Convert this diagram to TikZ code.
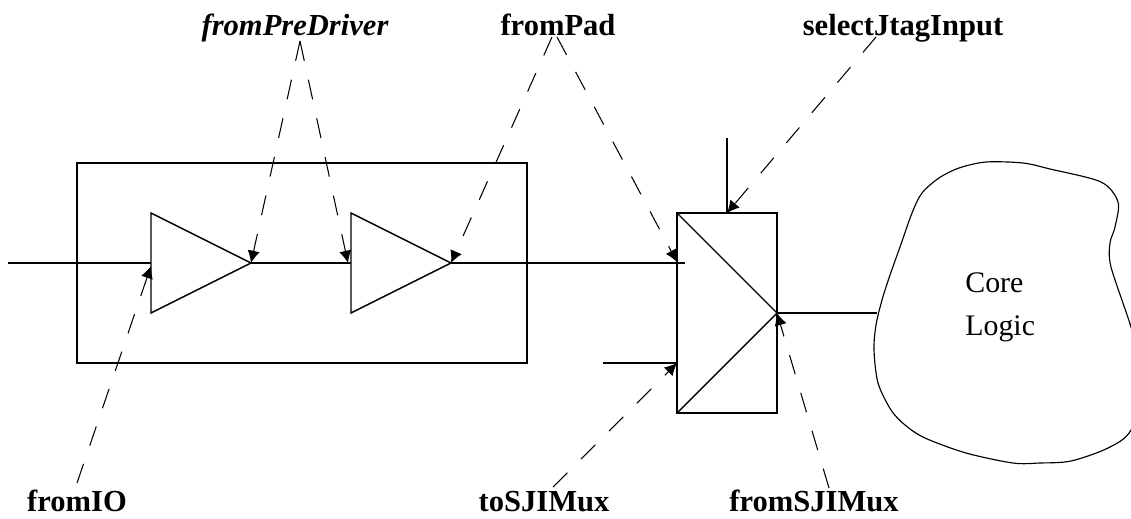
\documentclass[tikz,border=0pt]{standalone}
\usepackage{fontspec}
\setmainfont{Liberation Serif}
\usetikzlibrary{calc,arrows.meta}

\tikzset{
  wire/.style={line width=0.8pt},
  callout/.style={line width=0.6pt,dash pattern=on 11.5pt off 11pt,-{Latex[length=7pt,width=7pt]}},
  signame/.style={font=\fontsize{17.4}{20}\selectfont\bfseries,inner sep=0pt,anchor=base},
}

\begin{document}
\begin{tikzpicture}[x=0.02cm,y=-0.02cm]
    \useasboundingbox (0,0) rectangle (1131,518);

    \coordinate (IN) at (8,263);
    \coordinate (T1) at (151,213);
    \coordinate (T1in) at (151,263);
    \coordinate (T1b) at (151,313);
    \coordinate (T1out) at (251,263);
    \coordinate (T2) at (351,213);
    \coordinate (T2in) at (351,263);
    \coordinate (T2b) at (351,313);
    \coordinate (T2out) at (451,263);

    \coordinate (M) at (677,213);
    \coordinate (Mtop) at (727,213);
    \coordinate (Mb) at (677,413);
    \coordinate (Mout) at (777,313);
    \coordinate (Ma) at (685,263);
    \coordinate (Mlow) at (677,363);
    \coordinate (Lowend) at (603,363);
    \coordinate (Selend) at (727,138);
    \coordinate (Blobin) at (877,313);

    \draw[wire] (77,163) rectangle (527,363);
    \draw[wire] (IN) -- (T1in);
    \draw[wire] (T1) -- (T1out) -- (T1b) -- cycle;
    \draw[wire] (T1out) -- (T2in);
    \draw[wire] (T2) -- (T2out) -- (T2b) -- cycle;
    \draw[wire] (T2out) -- (Ma);

    \draw[wire] (M) rectangle (777,413);
    \draw[wire] (M) -- (Mout) -- (Mb);
    \draw[wire] (Lowend) -- (Mlow);
    \draw[wire] (Selend) -- (Mtop);
    \draw[wire] (Mout) -- (Blobin);

    % blob runs off the right edge
    \begin{scope}
      \clip (0,0) rectangle (1131,518);
      \draw[line width=0.65pt] plot[smooth cycle,tension=0.5] coordinates {
        (876,325) (882,300) (890,275) (900,247) (912,213) (922,193) (939,178) (959,168)
        (986,162) (1023,163) (1050,169) (1101,182) (1118,202) (1115,227)
        (1110,243) (1111,267) (1131,327) (1145,380) (1131,430) (1108,448)
        (1071,461) (1040,463) (1013,463) (966,453) (925,438) (905,425)
        (891,410) (878,383) (874,350)};
    \end{scope}

    \node[font=\fontsize{17}{24}\selectfont,inner sep=0pt,align=left,anchor=base west] (core) at (965,335) {Core\\Logic};

    \node[signame,font=\fontsize{17.4}{20}\selectfont\bfseries\itshape] (preDriver) at (295,35) {fromPreDriver};
    \node[signame] (pad) at (558,35) {fromPad};
    \node[signame] (jtag) at (903,35) {selectJtagInput};
    \node[signame] (io) at (77,511) {fromIO};
    \node[signame] (toMux) at (544,511) {toSJIMux};
    \node[signame] (fromMux) at (814,511) {fromSJIMux};

    \draw[callout] ($(preDriver.base)+(5,6)$) -- (T1out);
    \draw[callout] ($(preDriver.base)+(5,6)$) -- (348,263);
    \draw[callout] ($(pad.base)+(-6,2)$) -- (T2out);
    \draw[callout] ($(pad.base)+(-1,2)$) -- (677,262);
    \draw[callout] ($(jtag.base)+(-27,2)$) -- (Mtop);
    \draw[callout] ($(io.base)+(0,-28)$) -- (151,266);
    \draw[callout] ($(toMux.base)+(9,-24)$) -- (Mlow);
    \draw[callout] ($(fromMux.base)+(15,-23)$) -- (Mout);
  \end{tikzpicture}
\end{document}
